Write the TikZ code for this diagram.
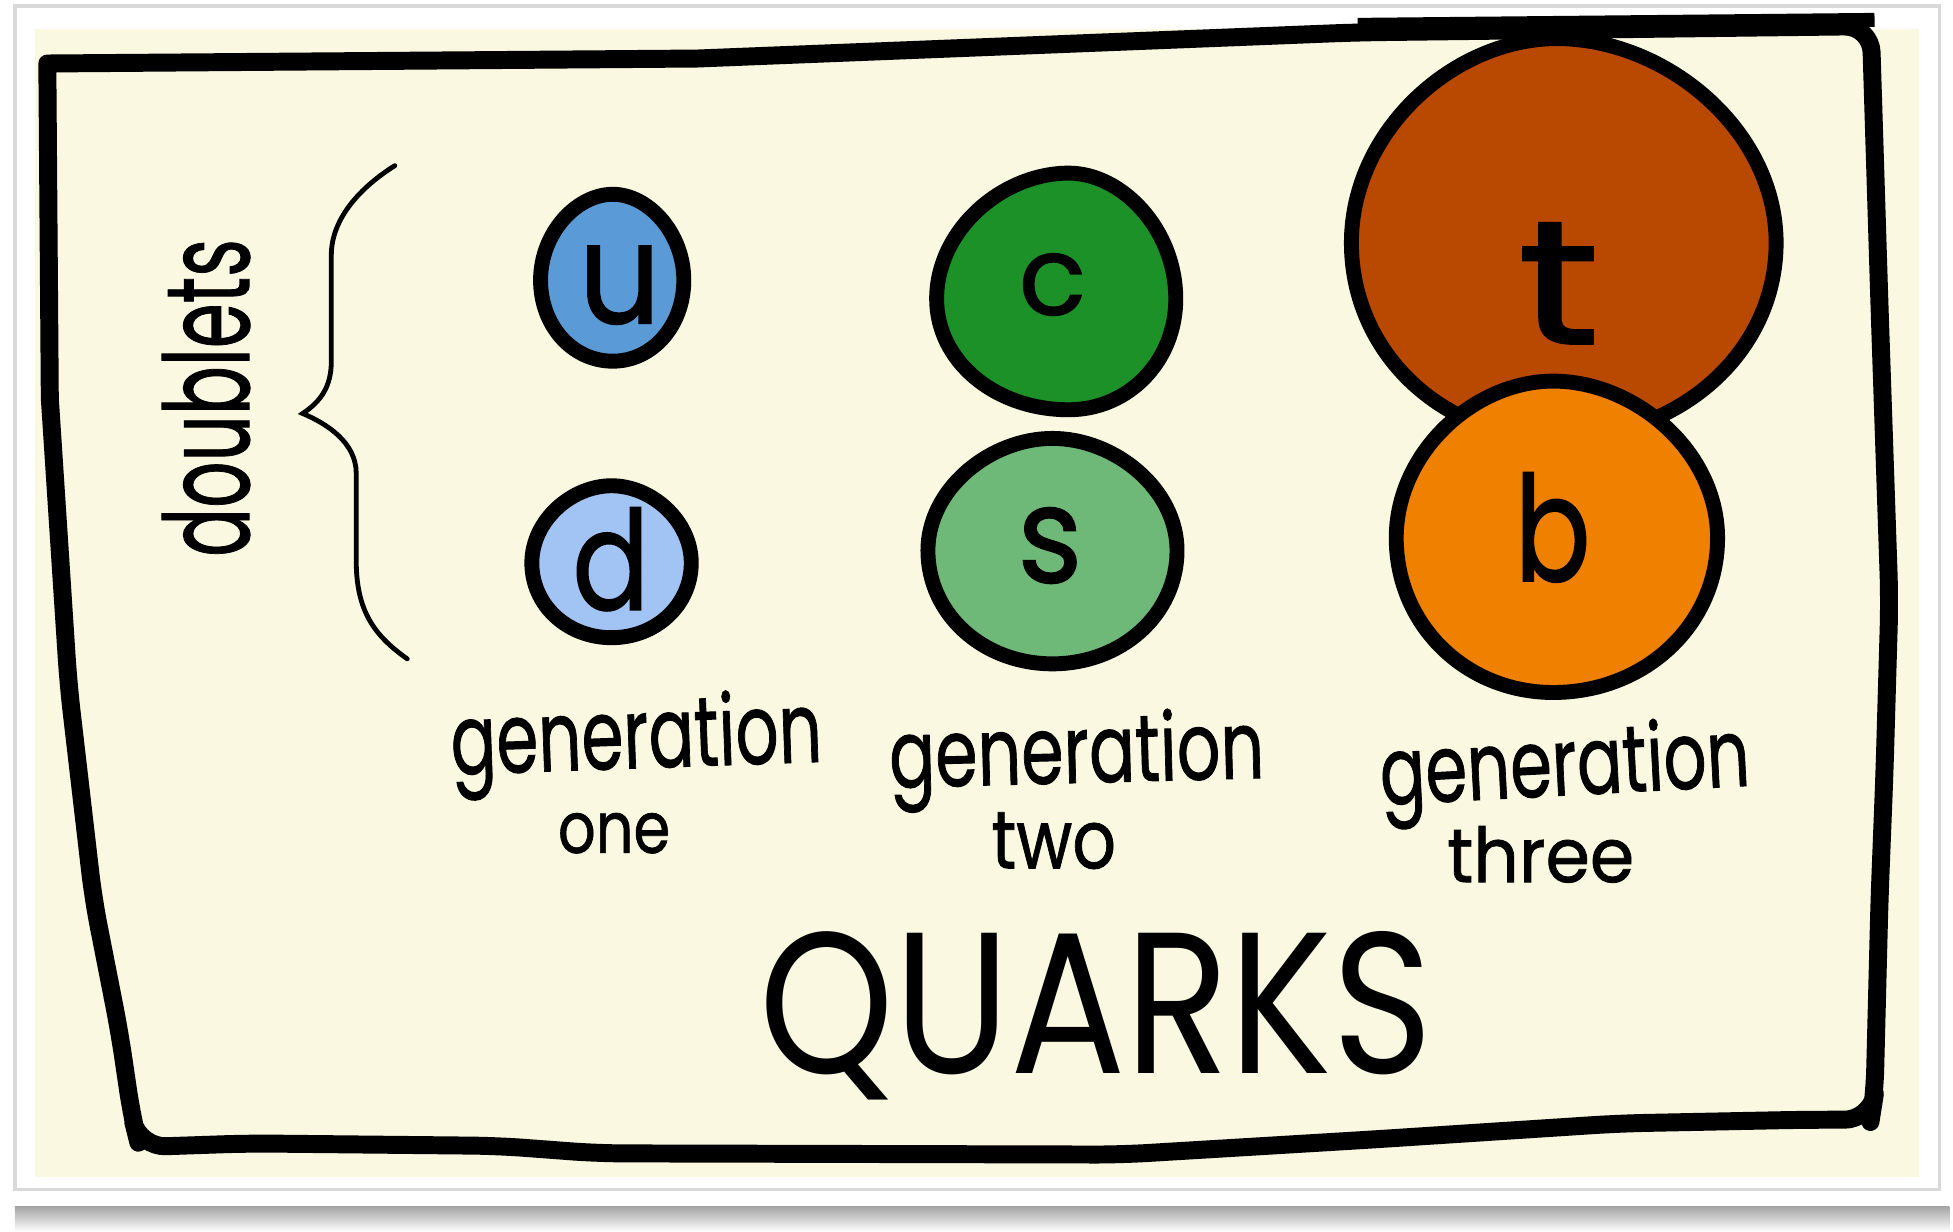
\documentclass[tikz,border=0pt]{standalone}
\usepackage{fontspec}
\setmainfont{Poppins}
\newfontfamily\markfont[FakeBold=1.2]{Poppins}
\newfontfamily\labfont[FakeBold=1.0]{Poppins}
\usepackage{graphicx}
\definecolor{cream}{RGB}{250,248,224}
\definecolor{ublue}{RGB}{90,155,215}
\definecolor{dblue}{RGB}{162,196,245}
\definecolor{cgreen}{RGB}{28,145,40}
\definecolor{sgreen}{RGB}{110,185,120}
\definecolor{trust}{RGB}{185,72,0}
\definecolor{borange}{RGB}{240,128,0}
\tikzset{
  frameline/.style={line width=4.1pt, line join=round, line cap=round},
  blob/.style={line width=3.4pt, draw=black, line join=round},
  letter/.style={inner sep=0pt, font=\markfont},
  label/.style={inner sep=0pt, font=\labfont},
}
% egg: cx cy left right top bottom
\def\eggshape#1#2#3#4#5#6{(#1-#3,#2) .. controls (#1-#3,#2-0.55*#5) and (#1-0.5*#3,#2-#5) .. (#1,#2-#5)
  .. controls (#1+0.5*#4,#2-#5) and (#1+#4,#2-0.55*#5) .. (#1+#4,#2)
  .. controls (#1+#4,#2+0.56*#6) and (#1+0.56*#4,#2+#6) .. (#1,#2+#6)
  .. controls (#1-0.56*#3,#2+#6) and (#1-#3,#2+0.56*#6) .. (#1-#3,#2) -- cycle}
\begin{document}
\begin{tikzpicture}[x=0.01cm,y=-0.01cm]
\useasboundingbox (0,0) rectangle (1568,989);
\fill[white] (0,0) rectangle (1568,989);
% card shadow and card
\shade[top color=gray!70, bottom color=white] (12,969) rectangle (1565,989);
\draw[gray!30, fill=white, line width=0.8pt] (12,5) rectangle (1557,955);
\fill[cream] (28,23) rectangle (1541,945);

% hand-drawn frame
\draw[frameline] (40,320) -- (38,51) -- (560,47) [rounded corners=6pt] -- (1090,26) -- (1502,21)
  -- (1509,246) -- (1517,482) -- (1513,620) -- (1509,722) -- (1505,880) -- (1502,899)
  -- (1450,899) -- (1300,902) -- (1100,915) -- (900,927) -- (480,926) -- (400,920)
  -- (200,918) -- (112,921) -- (106,897) -- (96,829) -- (75,722) -- (55,550) -- (40,320);
\draw[line width=3.2pt] (1090,20) -- (1505,16);

% brace
\draw[line width=1.1pt, line cap=round] (317,133) .. controls (290,150) and (266,175) .. (266,205)
  -- (266,290) .. controls (266,310) and (258,322) .. (243,332)
  .. controls (262,340) and (286,355) .. (286,380)
  -- (286,450) .. controls (286,490) and (300,510) .. (327,529);

% quark blobs
\draw[blob, fill=ublue] \eggshape{492}{225}{58}{57}{69}{65};
\draw[blob, fill=dblue] \eggshape{491}{452}{64}{64}{62}{60};
\draw[blob, fill=cgreen] \eggshape{858}{240}{106}{86}{101}{89};
\draw[blob, fill=sgreen] \eggshape{845}{442}{100}{100}{90}{91};
\draw[blob, fill=trust] \eggshape{1250}{195}{165}{176}{164}{157};
\draw[blob, fill=borange] \eggshape{1247}{432}{126}{132}{126}{124};

% letters
\node[letter] (u) at (497.5,229) {\resizebox{0.66cm}{0.62cm}{u}};
\node[letter] (d) at (490.5,449) {\resizebox{0.62cm}{0.82cm}{d}};
\node[letter] (c) at (845,228.5) {\resizebox{0.54cm}{0.49cm}{c}};
\node[letter] (s) at (843,438) {\resizebox{0.52cm}{0.60cm}{s}};
\node[letter] (t) at (1251.5,227.5) {\resizebox{0.66cm}{0.97cm}{t}};
\node[letter] (b) at (1246.5,423.5) {\resizebox{0.61cm}{0.87cm}{b}};

% labels
\node[label, rotate=90, anchor=base] (doublets) at (200,319.5) {\resizebox{2.55cm}{0.70cm}{doublets}};
\node[label, rotate=2] (gen1) at (511,597.5) {\resizebox*{2.98cm}{0.81cm}{generation}};
\node[label] (one) at (493,669) {\resizebox{0.9cm}{0.32cm}{one}};
\node[label, rotate=1.5] (gen2) at (864.5,610) {\resizebox*{3.01cm}{0.78cm}{generation}};
\node[label] (two) at (846,675) {\resizebox{1.0cm}{0.45cm}{two}};
\node[label, rotate=3] (gen3) at (1256.5,620) {\resizebox*{2.97cm}{0.78cm}{generation}};
\node[label] (three) at (1237,686) {\resizebox{1.5cm}{0.45cm}{three}};
\node[inner sep=0pt, anchor=base] (quarks) at (880,862) {\resizebox{5.4cm}{1.14cm}{QUARKS}};
\end{tikzpicture}
\end{document}
